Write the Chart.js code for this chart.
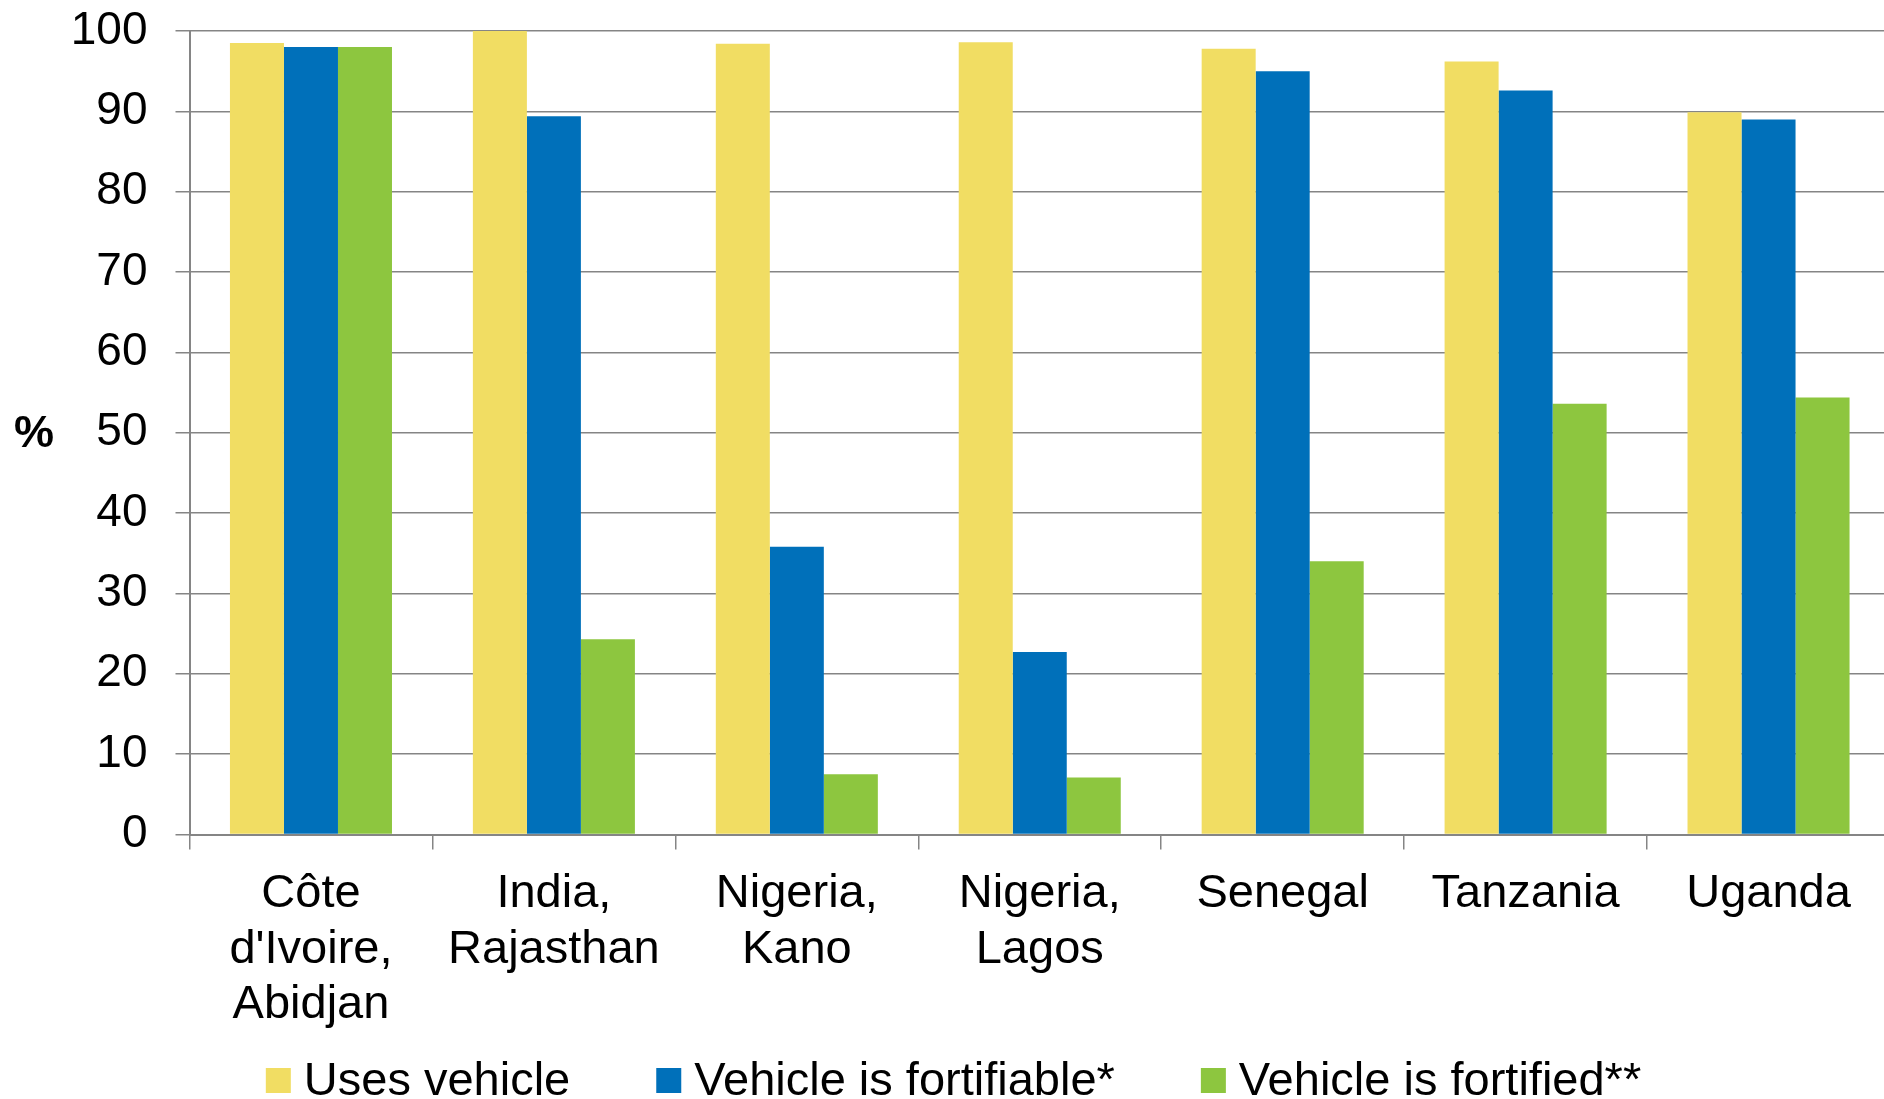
<!DOCTYPE html>
<html>
<head>
<meta charset="utf-8">
<script src="https://cdn.jsdelivr.net/npm/chart.js@4/dist/chart.umd.min.js"></script>
<style>
  html, body { margin: 0; padding: 0; background: #ffffff; overflow: hidden; }
  #wrap { position: relative; width: 1890px; height: 1099px; }
</style>
</head>
<body>
<div id="wrap"><canvas id="c"></canvas></div>
<script>
const categories = [
  ["Côte", "d'Ivoire,", "Abidjan"],
  ["India,", "Rajasthan"],
  ["Nigeria,", "Kano"],
  ["Nigeria,", "Lagos"],
  "Senegal",
  "Tanzania",
  "Uganda"
];
const seriesNames = ["Uses vehicle", "Vehicle is fortifiable*", "Vehicle is fortified**"];
const usesVehicle = [98.5, 100, 98.4, 98.6, 97.8, 96.2, 89.9];
const fortifiable = [98.0, 89.4, 35.8, 22.7, 95.0, 92.6, 89.0];
const fortified = [98.0, 24.3, 7.5, 7.1, 34.0, 53.6, 54.4];
const yTicks = [0, 10, 20, 30, 40, 50, 60, 70, 80, 90, 100];
const yAxisLabel = "%";

const colors = ["#F1DD63", "#0070BA", "#8DC63F"];
const FONT = "'Liberation Sans', Arial, sans-serif";
const GRID = "#858585";

const yTitlePlugin = {
  id: 'yTitle',
  afterDraw(chart) {
    const ctx = chart.ctx;
    const a = chart.chartArea;
    ctx.save();
    ctx.font = "bold 45px " + FONT;
    ctx.fillStyle = "#000";
    ctx.textAlign = "center";
    ctx.textBaseline = "middle";
    ctx.fillText(yAxisLabel, 34, (a.top + a.bottom) / 2 + 2);
    ctx.restore();
  }
};

// bottom legend: square swatch + label, built from the chart's datasets
const bottomLegend = {
  id: 'bottomLegend',
  afterDraw(chart) {
    const ctx = chart.ctx;
    const ds = chart.data.datasets;
    const box = 25, gapText = 13, gapItem = 86;
    ctx.save();
    ctx.font = "47px " + FONT;
    const widths = ds.map(d => ctx.measureText(d.label).width);
    const total = widths.reduce((s, w) => s + box + gapText + w, 0) + gapItem * (ds.length - 1);
    let x = 953.5 - total / 2;
    const baseline = 1095;
    const boxTop = 1068;
    ds.forEach((d, i) => {
      ctx.fillStyle = d.backgroundColor;
      ctx.fillRect(x, boxTop, box, box);
      ctx.fillStyle = "#000";
      ctx.textAlign = "left";
      ctx.textBaseline = "alphabetic";
      ctx.fillText(d.label, x + box + gapText, baseline);
      x += box + gapText + widths[i] + gapItem;
    });
    ctx.restore();
  }
};

new Chart(document.getElementById('c'), {
  type: 'bar',
  data: {
    labels: categories,
    datasets: [
      { label: seriesNames[0], data: usesVehicle, backgroundColor: colors[0] },
      { label: seriesNames[1], data: fortifiable, backgroundColor: colors[1] },
      { label: seriesNames[2], data: fortified, backgroundColor: colors[2] }
    ]
  },
  options: {
    responsive: true,
    maintainAspectRatio: false,
    animation: false,
    devicePixelRatio: 1,
    datasets: { bar: { categoryPercentage: 0.667, barPercentage: 1.0, borderWidth: 0 } },
    layout: { padding: { top: 31, right: 0, bottom: 64.5, left: 0 } },
    plugins: {
      tooltip: { enabled: false },
      legend: { display: false }
    },
    scales: {
      x: {
        afterFit: (s) => { s.height = 200; },
        grid: { display: true, drawOnChartArea: false, drawTicks: true, tickLength: 15, color: GRID, lineWidth: 1.5, offset: true },
        border: { display: true, color: GRID, width: 2 },
        ticks: { color: '#000', font: { family: FONT, size: 47, lineHeight: 1.18 }, padding: 17, maxRotation: 0, autoSkip: false }
      },
      y: {
        min: 0, max: 100,
        afterFit: (s) => { s.width = 189.5; s.paddingTop = 0; s.paddingBottom = 0; },
        afterBuildTicks: (s) => { s.ticks = yTicks.map(v => ({ value: v })); },
        grid: { color: GRID, lineWidth: 1.5, drawTicks: true, tickLength: 14 },
        border: { display: true, color: GRID, width: 2 },
        ticks: { color: '#000', font: { family: FONT, size: 46 }, padding: 28, stepSize: 10 }
      }
    }
  },
  plugins: [yTitlePlugin, bottomLegend]
});
</script>
</body>
</html>
